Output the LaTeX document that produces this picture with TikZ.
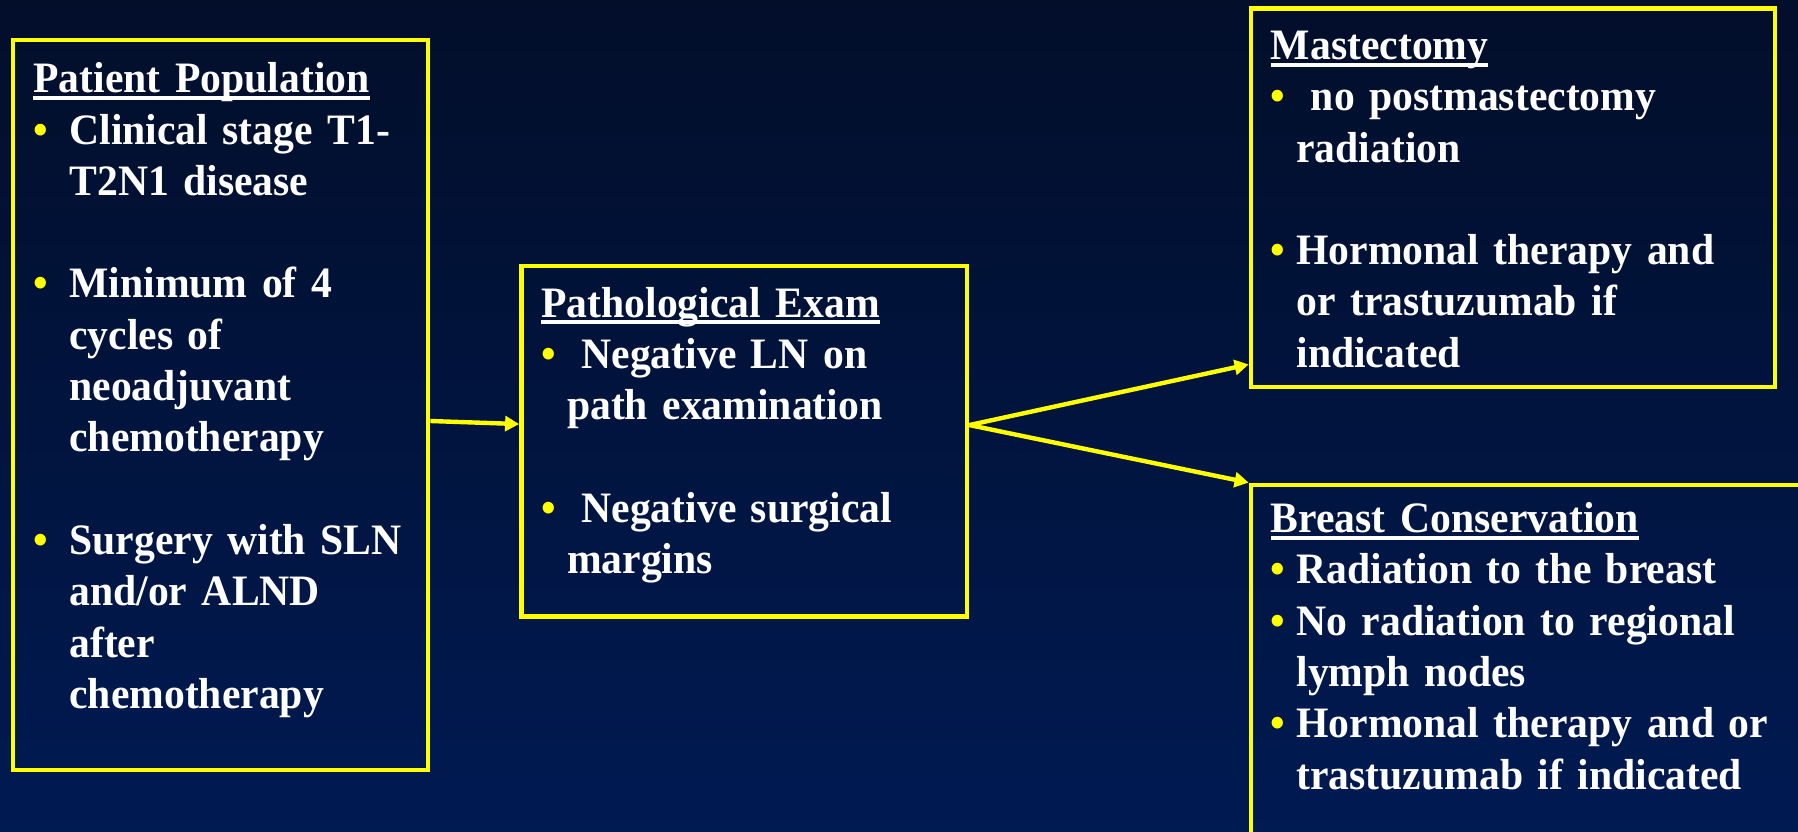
\documentclass[tikz,border=0pt]{standalone}
\usepackage{fontspec}
\setmainfont{Liberation Serif}[FakeStretch=0.96]
\usetikzlibrary{arrows.meta}

\definecolor{bgtop}{RGB}{2,14,42}
\definecolor{bgbot}{RGB}{0,26,82}
\definecolor{boxyellow}{RGB}{255,255,0}

\newsavebox\hdbox
\newcommand\hd[1]{\sbox\hdbox{#1}\rlap{\rule[-3.65pt]{\wd\hdbox}{2pt}}\usebox\hdbox}

\newlength\bulw
\newcommand\bul{\makebox[\bulw][l]{\textcolor{boxyellow}{\textbullet}}}
\newcommand\ind{\hspace*{\bulw}}
\newcommand\skipline{\\[\baselineskip]}

\tikzset{
  box/.style={draw=boxyellow, line width=2.4pt, inner sep=0pt},
  boxtext/.style={anchor=base west, inner sep=0pt, text=white, align=left,
    text width=300pt, font=\fontsize{21.7}{25.65}\selectfont\bfseries},
  link/.style={draw=boxyellow, line width=2.2pt, -{Triangle[length=7pt,width=7.5pt]}}
}

\begin{document}
\begin{tikzpicture}[x=0.5pt, y=-0.5pt]
    \shade[top color=bgtop, bottom color=bgbot] (0,0) rectangle (1798,831);
    \useasboundingbox (0,0) rectangle (1798,831);
    \clip (0,0) rectangle (1798,831);

    \node[box, minimum width=207.5pt, minimum height=365pt] (pop) at (220.5,405) {};
    \node[box, minimum width=222.75pt, minimum height=175.25pt] (path) at (744.25,441.25) {};
    \node[box, minimum width=262pt, minimum height=189.25pt] (mast) at (1513,197.75) {};
    \node[box, minimum width=294.5pt, minimum height=207.5pt] (breast) at (1545.5,692.5) {};

    \node[boxtext] (popText) at (33,92.7) {\setlength\bulw{18pt}%
      \hd{Patient Population}\\
      \bul Clinical stage T1-\\
      \ind T2N1 disease\skipline
      \bul Minimum of 4\\
      \ind cycles of\\
      \ind neoadjuvant\\
      \ind chemotherapy\skipline
      \bul Surgery with SLN\\
      \ind and/or ALND\\
      \ind after\\
      \ind chemotherapy};
    \node[boxtext] (pathText) at (541,317) {\setlength\bulw{12.8pt}%
      \hd{Pathological Exam}\\
      \bul\ Negative LN on\\
      \ind path examination\skipline
      \bul\ Negative surgical\\
      \ind margins};
    \node[boxtext] (mastText) at (1270.5,59.4) {\setlength\bulw{12.75pt}%
      \hd{Mastectomy}\\
      \bul\ no postmastectomy\\
      \ind radiation\skipline
      \bul Hormonal therapy and\\
      \ind or trastuzumab if\\
      \ind indicated};
    \node[boxtext] (breastText) at (1270.5,532.6) {\setlength\bulw{12.75pt}%
      \hd{Breast Conservation}\\
      \bul Radiation to the breast\\
      \bul No radiation to regional\\
      \ind lymph nodes\\
      \bul Hormonal therapy and or\\
      \ind trastuzumab if indicated};

    \draw[link] ([yshift=-8pt]pop.east) -- ([yshift=8.6pt]path.west);
    \draw[link] ([yshift=8.1pt]path.east) -- ([yshift=12.5pt]mast.south west);
    \draw[link] ([yshift=8.1pt]path.east) -- (breast.north west);
\end{tikzpicture}
\end{document}
